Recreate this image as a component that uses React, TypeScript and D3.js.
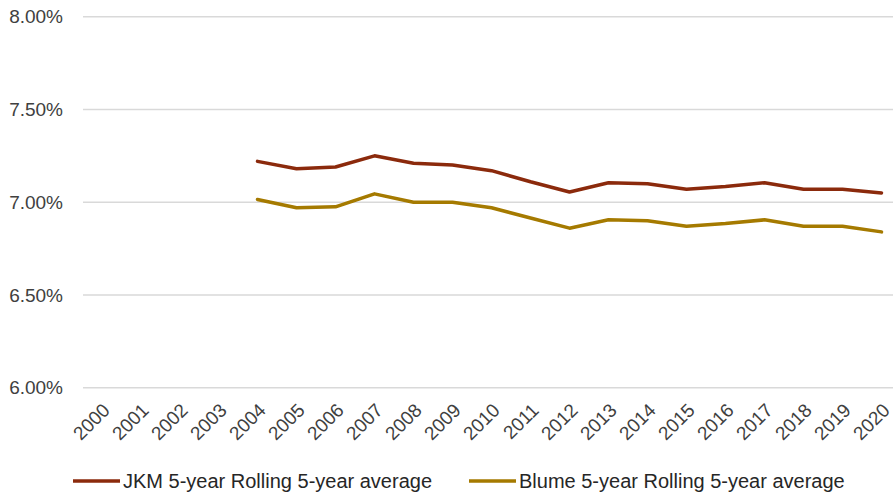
import React, { useEffect, useRef } from "react";
import * as d3 from "d3";

const years = [
  "2000", "2001", "2002", "2003", "2004", "2005", "2006", "2007", "2008", "2009", "2010",
  "2011", "2012", "2013", "2014", "2015", "2016", "2017", "2018", "2019", "2020",
];

// null = no value for that year
const jkm = [
  null, null, null, null, 7.22, 7.18, 7.19, 7.25, 7.21, 7.2, 7.17,
  7.11, 7.055, 7.105, 7.1, 7.07, 7.085, 7.105, 7.07, 7.07, 7.05,
];
const blume = [
  null, null, null, null, 7.015, 6.97, 6.975, 7.045, 7.0, 7.0, 6.97,
  6.915, 6.86, 6.905, 6.9, 6.87, 6.885, 6.905, 6.87, 6.87, 6.84,
];

const yTicks = [6.0, 6.5, 7.0, 7.5, 8.0];

const seriesNames = ["JKM 5-year Rolling 5-year average", "Blume 5-year Rolling 5-year average"];
const seriesColors = ["#8b2a0c", "#a57a00"];

const W = 893;
const H = 495;

const drawChart = (el: SVGSVGElement) => {
  const svg = d3.select(el);
  svg.selectAll("*").remove();

  const x = d3.scaleBand().domain(years).range([82, 82 + 39 * years.length]);
  const y = d3.scaleLinear().domain([6, 8]).range([387.7, 16.7]);

  // gridlines
  svg.append("g")
    .selectAll("line")
    .data(yTicks)
    .join("line")
      .attr("x1", 83)
      .attr("x2", W)
      .attr("y1", d => y(d))
      .attr("y2", d => y(d))
      .attr("stroke", "#d9d9d9")
      .attr("stroke-width", 1.5);

  // y labels
  svg.append("g")
      .attr("font-family", "Liberation Sans, Arial, sans-serif")
      .attr("font-size", 19)
      .attr("fill", "#404040")
      .attr("text-anchor", "end")
    .selectAll("text")
    .data(yTicks)
    .join("text")
      .attr("x", 63)
      .attr("y", d => y(d))
      .attr("dy", "0.35em")
      .text(d => d.toFixed(2) + "%");

  // x labels
  svg.append("g")
      .attr("font-family", "Liberation Sans, Arial, sans-serif")
      .attr("font-size", 19)
      .attr("fill", "#404040")
      .attr("text-anchor", "end")
    .selectAll("text")
    .data(years)
    .join("text")
      .attr("transform", d => `translate(${x(d)! + x.bandwidth() / 2},${402}) rotate(-45)`)
      .attr("dy", "0.7em")
      .text(d => d);

  const line = d3.line<number | null>()
    .defined(d => d !== null)
    .x((d, i) => x(years[i])! + x.bandwidth() / 2)
    .y(d => y(d as number));

  [jkm, blume].forEach((s, i) => {
    svg.append("path")
      .datum(s)
      .attr("fill", "none")
      .attr("stroke", seriesColors[i])
      .attr("stroke-width", 3.5)
      .attr("stroke-linejoin", "round")
      .attr("stroke-linecap", "round")
      .attr("d", line);
  });

  // legend
  const legendX = [73, 469];
  const lg = svg.append("g")
    .selectAll("g")
    .data(seriesNames)
    .join("g")
      .attr("transform", (d, i) => `translate(${legendX[i]},481)`);
  lg.append("line")
      .attr("x1", 0)
      .attr("x2", 47)
      .attr("stroke", (d, i) => seriesColors[i])
      .attr("stroke-width", 3.5);
  lg.append("text")
      .attr("x", 50)
      .attr("dy", "0.35em")
      .attr("font-family", "Liberation Sans, Arial, sans-serif")
      .attr("font-size", 20)
      .attr("fill", "#262626")
      .text(d => d);
};

const App = () => {
  const ref = useRef<SVGSVGElement>(null);
  useEffect(() => {
    if (ref.current) drawChart(ref.current);
  }, []);
  return (
    <svg
      ref={ref}
      width={W}
      height={H}
      style={{ position: "absolute", left: 0, top: 0, background: "#fff" }}
    />
  );
};

export default App;
